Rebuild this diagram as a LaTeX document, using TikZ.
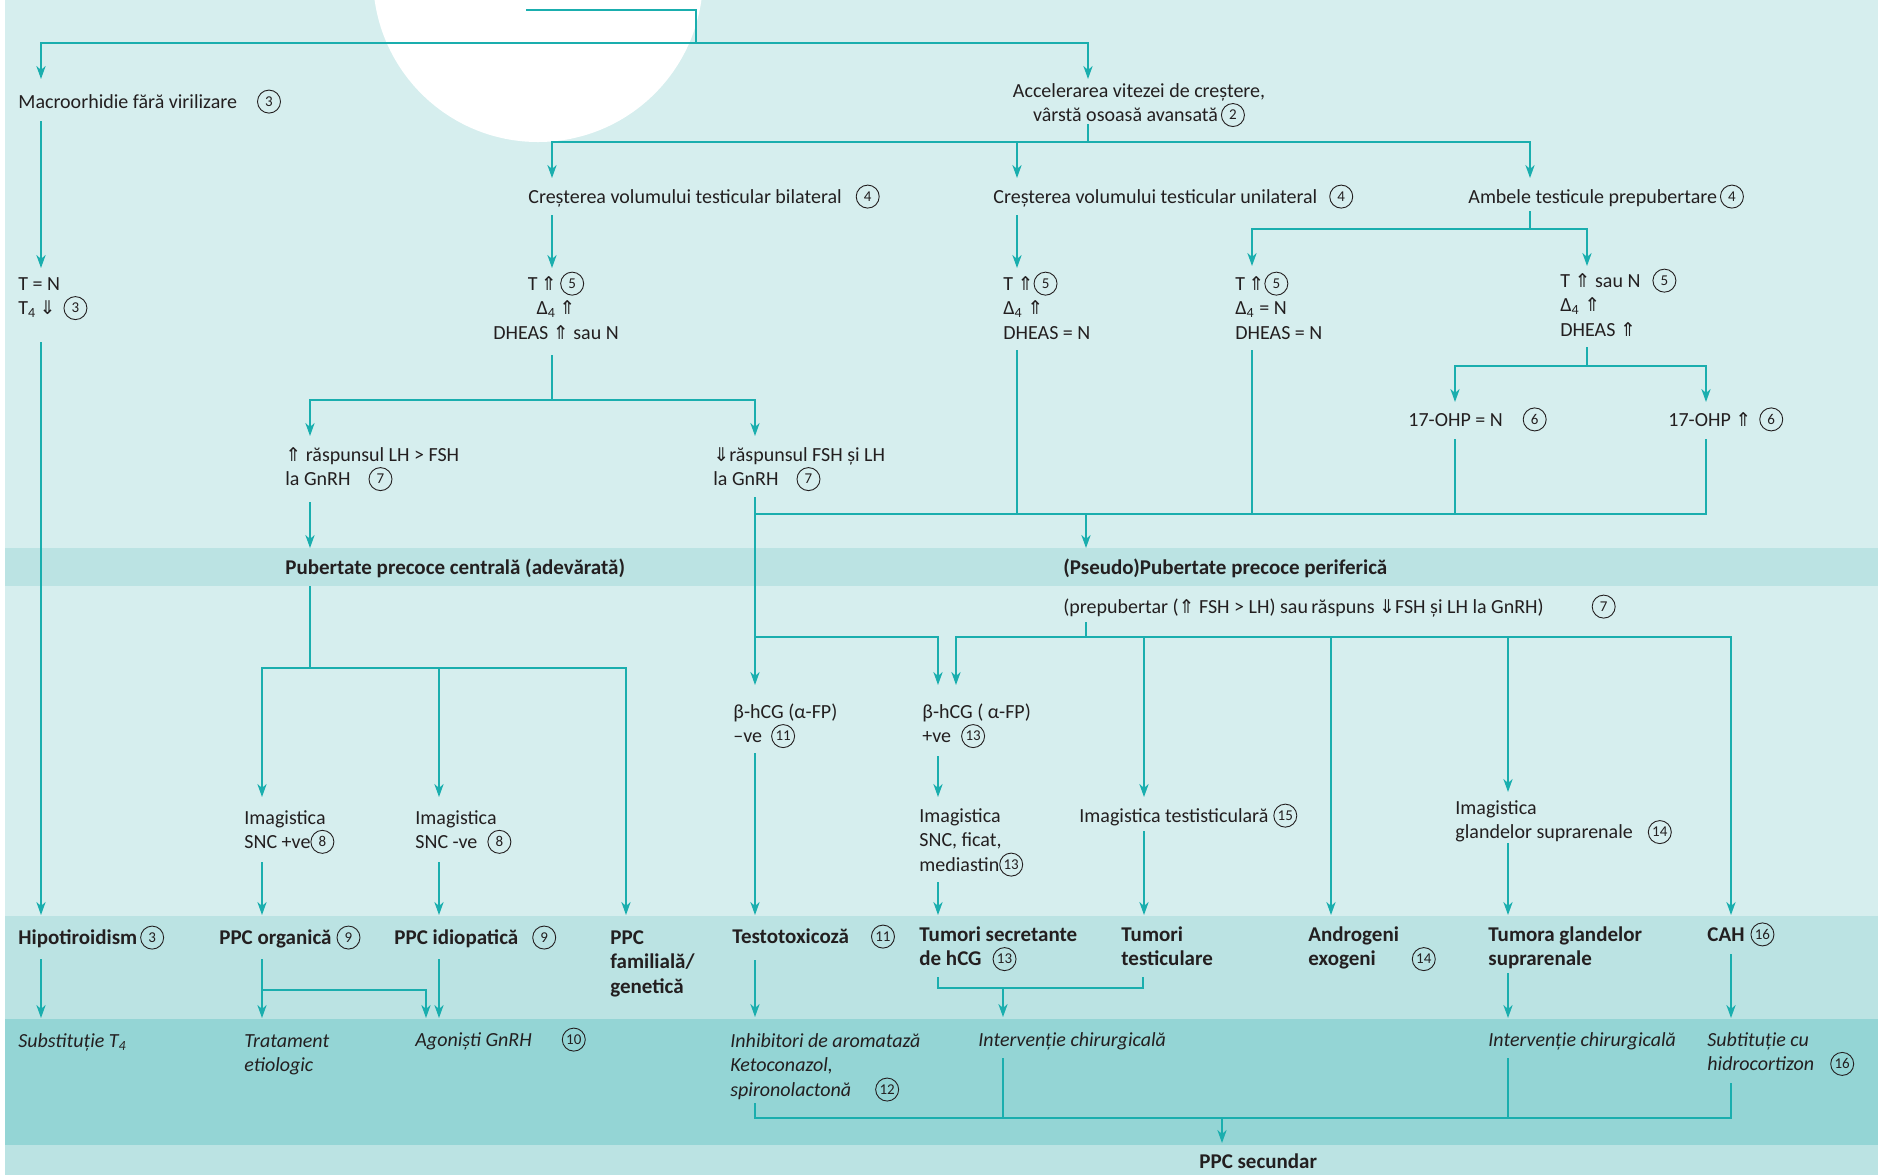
\documentclass[tikz,border=0pt]{standalone}
\usepackage{fontspec}
\setmainfont{Carlito}
\newfontfamily\symf{DejaVu Sans}
\usetikzlibrary{arrows.meta}
\definecolor{bgc}{HTML}{D6EEEE}
\definecolor{bandb}{HTML}{BBE3E3}
\definecolor{bandc}{HTML}{94D5D5}
\definecolor{lnc}{HTML}{1AAEAE}
\definecolor{ink}{HTML}{231F20}
\tikzset{cnstyle/.style={circle,draw=ink,line width=0.45pt,inner sep=0pt,outer sep=0pt,minimum size=11.5pt,anchor=center,text=ink,font=\fontsize{7.5}{7.5}\selectfont\mdseries\upshape}}
\newcommand\upa{{\symf\fontsize{9.5}{9.5}\selectfont\mdseries ⇑}}
\newcommand\dna{{\symf\fontsize{9.5}{9.5}\selectfont\mdseries ⇓}}
\newcommand\cnum[1]{\smash{\tikz[baseline={([yshift=-0.8pt]cq.base)}]\node[cnstyle](cq){#1};}}
\newcommand\tL[1]{\begin{tabular}[t]{@{}l@{}}#1\end{tabular}}
\newcommand\tC[1]{\begin{tabular}[t]{@{}c@{}}#1\end{tabular}}
\begin{document}
\begin{tikzpicture}[x=0.5pt,y=-0.5pt,
 ln/.style={draw=lnc,line width=0.9pt},
 arr/.style={ln,-{Stealth[length=6.5pt,width=4.6pt,inset=2pt]}},
 tx/.style={anchor=base west,inner sep=0pt,text=ink,font=\fontsize{10}{12.25}\selectfont},
 tb/.style={tx,font=\fontsize{10.5}{12.25}\selectfont\bfseries},
 ti/.style={tx,font=\fontsize{10}{12.25}\selectfont\itshape},
 txc/.style={tx,anchor=base}]
\useasboundingbox (0,0) rectangle (1878,1175);
\clip (0,0) rectangle (1878,1175);
% background
\fill[white] (0,0) rectangle (1878,1175);
\fill[bgc] (5,0) rectangle (1878,1175);
\fill[bandb] (5,548) rectangle (1878,586);
\fill[bandb] (5,916) rectangle (1878,1019);
\fill[bandc] (5,1019) rectangle (1878,1145);
\fill[bandb] (5,1145) rectangle (1878,1175);
\fill[white] (538,-23) circle (165);

% ---------- text nodes ----------
\node[tx] (mac) at (18,108) {Macroorhidie fără virilizare\hspace{10pt}\cnum{3}};
\node[txc] (acc) at (1139,97) {\tC{Accelerarea vitezei de creștere,\\vârstă osoasă avansată\hspace{1.5pt}\cnum{2}}};
\node[tx] (bil) at (528,203) {Creșterea volumului testicular bilateral\hspace{7pt}\cnum{4}};
\node[tx] (uni) at (993,203) {Creșterea volumului testicular unilateral\hspace{6pt}\cnum{4}};
\node[tx] (amb) at (1468,203) {Ambele testicule prepubertare\hspace{1.5pt}\cnum{4}};

\node[tx] (tn) at (18,290) {\tL{T = N\\T\textsubscript{4}\,\dna\hspace{4pt}\cnum{3}}};
\node[txc] (bres) at (556,290) {\tC{T\,\upa\,\cnum{5}\\Δ\textsubscript{4}\,\upa\\DHEAS \upa{} sau N}};
\node[tx] (ures) at (1003,290) {\tL{T \upa\cnum{5}\\Δ\textsubscript{4} \upa\\DHEAS = N}};
\node[tx] (alres) at (1235,290) {\tL{T\,\upa\cnum{5}\\Δ\textsubscript{4} = N\\DHEAS = N}};
\node[tx] (arres) at (1560,287) {\tL{T \upa{} sau N\hspace{6pt}\cnum{5}\\Δ\textsubscript{4} \upa\\DHEAS \upa}};
\node[tx] (ohpn) at (1408,426) {17-OHP = N\hspace{10pt}\cnum{6}};
\node[tx] (ohpu) at (1668,426) {17-OHP \upa\hspace{4pt}\cnum{6}};

\node[tx] (lhup) at (285,461) {\tL{\upa{} răspunsul LH > FSH\\la GnRH\hspace{9pt}\cnum{7}}};
\node[tx] (lhdn) at (713,461) {\tL{\dna răspunsul FSH și LH\\la GnRH\hspace{9pt}\cnum{7}}};

\node[tb] (ppcc) at (285,574) {Pubertate precoce centrală (adevărată)};
\node[tb] (ppcp) at (1063,574) {(Pseudo)Pubertate precoce periferică};
\node[tx] (prep) at (1063,613) {(prepubertar (\upa{} FSH > LH) sau\,răspuns \dna FSH și LH la GnRH)\hspace{24pt}\cnum{7}};

\node[tx] (bneg) at (733,718) {\tL{β-hCG (α-FP)\\–ve\hspace{4.5pt}\cnum{11}}};
\node[tx] (bpos) at (922,718) {\tL{β-hCG ( α-FP)\\+ve\hspace{5pt}\cnum{13}}};

\node[tx] (imgp) at (244,824) {\tL{Imagistica\\SNC +ve\cnum{8}}};
\node[tx] (imgn) at (415,824) {\tL{Imagistica\\SNC -ve\hspace{5pt}\cnum{8}}};
\node[tx] (imgs) at (919,822) {\tL{Imagistica\\SNC, ficat,\\mediastin\cnum{13}}};
\node[tx] (imgt) at (1079,822) {Imagistica testisticulară\hspace{2.5pt}\cnum{15}};
\node[tx] (imgg) at (1455,814) {\tL{Imagistica\\glandelor suprarenale\hspace{7.5pt}\cnum{14}}};

\node[tb] (hipo) at (18,944) {Hipotiroidism\hspace{1.5pt}\cnum{3}};
\node[tb] (porg) at (219,944) {PPC organică\hspace{2.5pt}\cnum{9}};
\node[tb] (pidi) at (394,944) {PPC idiopatică\hspace{7pt}\cnum{9}};
\node[tb] (pfam) at (610,944) {\tL{PPC\\familială/\\genetică}};
\node[tb] (test) at (732,943) {Testotoxicoză\hspace{11pt}\cnum{11}};
\node[tb] (tsec) at (919,941) {\tL{Tumori secretante\\de hCG\hspace{5.5pt}\cnum{13}}};
\node[tb] (ttes) at (1121,941) {\tL{Tumori\\testiculare}};
\node[tb] (andr) at (1308,941) {\tL{Androgeni\\exogeni\hspace{18pt}\cnum{14}}};
\node[tb] (tgla) at (1488,941) {\tL{Tumora glandelor\\suprarenale}};
\node[tb] (cah) at (1707,941) {CAH\hspace{3pt}\cnum{16}};

\node[ti] (subs) at (18,1047) {Substituție T\textsubscript{4}};
\node[ti] (trat) at (244,1047) {\tL{Tratament\\etiologic}};
\node[ti] (agon) at (415,1046) {Agoniști GnRH\hspace{15pt}\cnum{10}};
\node[ti] (inhi) at (730,1047) {\tL{Inhibitori de aromatază\\Ketoconazol,\\spironolactonă\hspace{12pt}\cnum{12}}};
\node[ti] (intl) at (978,1046) {Intervenție chirurgicală};
\node[ti] (intr) at (1488,1046) {Intervenție chirurgicală};
\node[ti] (hidr) at (1707,1046) {\tL{Subtituție cu\\hidrocortizon\hspace{8pt}\cnum{16}}};
\node[tb] (psec) at (1199,1168) {PPC secundar};

% ---------- coordinates ----------
\coordinate (topA) at (526,10); \coordinate (topB) at (696,10); \coordinate (topJ) at (696,43);
\coordinate (macT) at (41,79); \coordinate (accT) at (1088,79);
\coordinate (accB) at (1088,124); \coordinate (accJ) at (1088,142);
\coordinate (bilT) at (552,178); \coordinate (uniT) at (1017,178); \coordinate (ambT) at (1530,178);
\coordinate (macB) at (41,121); \coordinate (tnT) at (41,268);
\coordinate (bilB) at (552,215); \coordinate (bresT) at (552,268);
\coordinate (uniB) at (1017,215); \coordinate (uresT) at (1017,268);
\coordinate (ambB) at (1530,211); \coordinate (ambJ) at (1530,229);
\coordinate (alT) at (1252,266); \coordinate (arT) at (1587,266);
\coordinate (tnB) at (41,342); \coordinate (hipT) at (41,915);
\coordinate (bresB) at (552,355); \coordinate (bresJ) at (552,400);
\coordinate (lhupT) at (310,436); \coordinate (lhdnT) at (755,436);
\coordinate (uresB) at (1017,350); \coordinate (uresC) at (1017,514);
\coordinate (alB) at (1252,350); \coordinate (alC) at (1252,514);
\coordinate (arB) at (1587,347); \coordinate (arJ) at (1587,366);
\coordinate (ohpnT) at (1455,402); \coordinate (ohpuT) at (1706,402);
\coordinate (ohpnB) at (1455,439); \coordinate (ohpnC) at (1455,514);
\coordinate (ohpuB) at (1706,439); \coordinate (ohpuC) at (1706,514);
\coordinate (colL) at (755,514); \coordinate (colJ) at (1086,514); \coordinate (ppcpT) at (1086,548);
\coordinate (lhupB) at (310,502); \coordinate (ppccT) at (310,548);
\coordinate (ppccB) at (310,586); \coordinate (ppccJ) at (310,668);
\coordinate (imgpT) at (262,797); \coordinate (imgnT) at (439,797); \coordinate (pfamT) at (626,915);
\coordinate (imgpB) at (262,862); \coordinate (porgT) at (262,915);
\coordinate (imgnB) at (439,862); \coordinate (pidiT) at (439,915);
\coordinate (hipB) at (41,959); \coordinate (subsT) at (41,1018);
\coordinate (porgB) at (262,959); \coordinate (tratT) at (262,1018);
\coordinate (porgJ) at (262,990); \coordinate (agonTa) at (426,1018);
\coordinate (pidiB) at (439,959); \coordinate (agonTb) at (439,1018);
\coordinate (lhdnB) at (755,497); \coordinate (bnegT) at (755,685);
\coordinate (lhdnJ) at (755,637); \coordinate (bposTa) at (938,685);
\coordinate (prepB) at (1086,622); \coordinate (prepJ) at (1086,637);
\coordinate (bposTb) at (956,685); \coordinate (imgtT) at (1144,797);
\coordinate (andrT) at (1331,915); \coordinate (imggT) at (1508,792); \coordinate (cahT) at (1731,915);
\coordinate (bnegB) at (755,753); \coordinate (testT) at (755,915);
\coordinate (bposB) at (938,756); \coordinate (imgsT) at (938,797);
\coordinate (imgsB) at (938,882); \coordinate (tsecT) at (938,915);
\coordinate (imgtB) at (1144,831); \coordinate (ttesT) at (1144,915);
\coordinate (imggB) at (1508,843); \coordinate (tglaT) at (1508,915);
\coordinate (testB) at (755,960); \coordinate (inhiT) at (755,1017);
\coordinate (tsecB) at (938,977); \coordinate (tsecC) at (938,988);
\coordinate (ttesC) at (1143,988); \coordinate (ttesB) at (1143,977);
\coordinate (tumJ) at (1003,988); \coordinate (intlT) at (1003,1017);
\coordinate (tglaB) at (1508,973); \coordinate (intrT) at (1508,1018);
\coordinate (cahB) at (1731,954); \coordinate (hidrT) at (1731,1018);
\coordinate (inhiB) at (755,1103); \coordinate (inhiC) at (755,1118);
\coordinate (hidrC) at (1731,1118); \coordinate (hidrB) at (1731,1083);
\coordinate (intlB) at (1003,1058); \coordinate (intlC) at (1003,1118);
\coordinate (intrB) at (1508,1058); \coordinate (intrC) at (1508,1118);
\coordinate (secJ) at (1222,1118); \coordinate (psecT) at (1222,1143);

% ---------- connectors ----------
\draw[ln] (topA) -- (topB) -- (topJ);
\draw[arr] (topJ) -| (macT);
\draw[arr] (topJ) -| (accT);
\draw[ln] (accB) -- (accJ);
\draw[arr] (accJ) -| (bilT);
\draw[arr] (accJ) -| (uniT);
\draw[arr] (accJ) -| (ambT);
\draw[arr] (macB) -- (tnT);
\draw[arr] (bilB) -- (bresT);
\draw[arr] (uniB) -- (uresT);
\draw[ln] (ambB) -- (ambJ);
\draw[arr] (ambJ) -| (alT);
\draw[arr] (ambJ) -| (arT);
\draw[arr] (tnB) -- (hipT);
\draw[ln] (bresB) -- (bresJ);
\draw[arr] (bresJ) -| (lhupT);
\draw[arr] (bresJ) -| (lhdnT);
\draw[ln] (arB) -- (arJ);
\draw[arr] (arJ) -| (ohpnT);
\draw[arr] (arJ) -| (ohpuT);
\draw[ln] (uresB) -- (uresC);
\draw[ln] (alB) -- (alC);
\draw[ln] (ohpnB) -- (ohpnC);
\draw[ln] (colL) -- (ohpuC) -- (ohpuB);
\draw[arr] (colJ) -- (ppcpT);
\draw[arr] (lhupB) -- (ppccT);
\draw[ln] (ppccB) -- (ppccJ);
\draw[arr] (ppccJ) -| (imgpT);
\draw[arr] (ppccJ) -| (imgnT);
\draw[arr] (ppccJ) -| (pfamT);
\draw[arr] (imgpB) -- (porgT);
\draw[arr] (imgnB) -- (pidiT);
\draw[arr] (hipB) -- (subsT);
\draw[arr] (porgB) -- (tratT);
\draw[arr] (porgJ) -| (agonTa);
\draw[arr] (pidiB) -- (agonTb);
\draw[arr] (lhdnB) -- (bnegT);
\draw[arr] (lhdnJ) -| (bposTa);
\draw[ln] (prepB) -- (prepJ);
\draw[arr] (prepJ) -| (bposTb);
\draw[arr] (prepJ) -| (imgtT);
\draw[arr] (prepJ) -| (andrT);
\draw[arr] (prepJ) -| (imggT);
\draw[arr] (prepJ) -| (cahT);
\draw[arr] (bnegB) -- (testT);
\draw[arr] (bposB) -- (imgsT);
\draw[arr] (imgsB) -- (tsecT);
\draw[arr] (imgtB) -- (ttesT);
\draw[arr] (imggB) -- (tglaT);
\draw[arr] (testB) -- (inhiT);
\draw[ln] (tsecB) -- (tsecC) -- (ttesC) -- (ttesB);
\draw[arr] (tumJ) -- (intlT);
\draw[arr] (tglaB) -- (intrT);
\draw[arr] (cahB) -- (hidrT);
\draw[ln] (inhiB) -- (inhiC) -- (hidrC) -- (hidrB);
\draw[ln] (intlB) -- (intlC);
\draw[ln] (intrB) -- (intrC);
\draw[arr] (secJ) -- (psecT);
\end{tikzpicture}
\end{document}
